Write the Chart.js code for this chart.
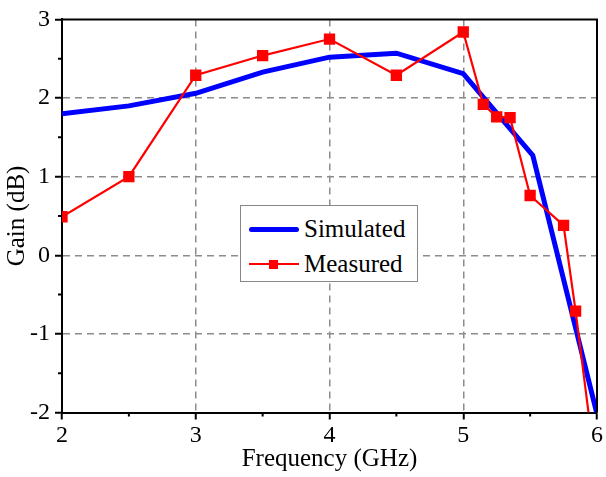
<!DOCTYPE html>
<html><head><meta charset="utf-8">
<script src="https://cdn.jsdelivr.net/npm/chart.js@4"></script>
<style>
html,body{margin:0;padding:0;background:#fff;}
#wrap{position:relative;width:606px;height:477px;}
#legend{position:absolute;left:240px;top:205px;width:178px;height:77px;border:1px solid #888;background:#fff;box-sizing:border-box;font-family:"Liberation Serif","Times New Roman",serif;font-size:25px;color:#000;}
.row{position:absolute;left:0;height:30px;}
.sw{position:absolute;left:8px;width:50px;top:15px;}
.sw .ln{position:absolute;left:0;width:50px;}
.sw .mk{position:absolute;width:9px;height:9px;left:20px;top:-4.5px;}
.txt{position:absolute;left:63px;top:0;line-height:30px;white-space:nowrap;}
</style>
</head><body>
<div id="wrap"><canvas id="c" width="606" height="477"></canvas><div id="legend"></div></div>
<script>
const simFreq = [2, 2.5, 3, 3.5, 4, 4.5, 5, 5.52, 6];
const simGain = [1.80, 1.90, 2.06, 2.33, 2.52, 2.57, 2.31, 1.27, -2.02];
const measFreq = [2, 2.5, 3, 3.5, 4, 4.5, 5, 5.15, 5.25, 5.35, 5.5, 5.75, 5.84, 5.95];
const measGain = [0.49, 1.00, 2.29, 2.54, 2.75, 2.29, 2.84, 1.92, 1.76, 1.75, 0.76, 0.38, -0.71, -2.18];
const seriesNames = ['Simulated', 'Measured'];
const xTicks = [2, 3, 4, 5, 6];
const yTicks = [-2, -1, 0, 1, 2, 3];
const xMinor = [2.5, 3.5, 4.5, 5.5];
const yMinor = [-1.5, -0.5, 0.5, 1.5, 2.5];
const xTitle = 'Frequency (GHz)';
const yTitle = 'Gain (dB)';

const FONT = '"Liberation Serif", "Times New Roman", serif';
const toPts = (xs, ys) => xs.map((x, i) => ({x: x, y: ys[i]}));

const boxPlugin = {
  id: 'box',
  afterDraw(chart) {
    const {ctx, chartArea: a, scales} = chart;
    ctx.save();
    ctx.strokeStyle = '#000';
    ctx.lineWidth = 2;
    ctx.beginPath();
    ctx.moveTo(a.left, a.top); ctx.lineTo(a.right, a.top); ctx.lineTo(a.right, a.bottom);
    ctx.stroke();
    // minor ticks
    ctx.lineWidth = 2;
    ctx.beginPath();
    xMinor.forEach(v => { const p = scales.x.getPixelForValue(v); ctx.moveTo(p, a.bottom); ctx.lineTo(p, a.bottom + 4); });
    yMinor.forEach(v => { const p = scales.y.getPixelForValue(v); ctx.moveTo(a.left, p); ctx.lineTo(a.left - 4, p); });
    ctx.stroke();
    ctx.restore();
  }
};

const chart = new Chart(document.getElementById('c'), {
  type: 'line',
  data: {
    datasets: [
      { label: seriesNames[0], data: toPts(simFreq, simGain), borderColor: '#0000ff', backgroundColor: '#0000ff',
        borderWidth: 5, pointRadius: 0, tension: 0, order: 1 },
      { label: seriesNames[1], data: toPts(measFreq, measGain), borderColor: '#ff0000', backgroundColor: '#ff0000',
        borderWidth: 2.2, pointStyle: 'rect', pointRadius: 8, pointBorderWidth: 0, pointBackgroundColor: '#ff0000', tension: 0, order: 0 }
    ]
  },
  options: {
    responsive: false,
    animation: false,
    devicePixelRatio: 1,
    layout: { padding: { top: 17, right: 9, left: 0, bottom: 0 } },
    plugins: { legend: { display: false }, tooltip: { enabled: false } },
    scales: {
      x: {
        type: 'linear', min: 2, max: 6,
        afterFit(s) { s.height = 64.5; },
        afterBuildTicks(s) { s.ticks = xTicks.map(v => ({value: v})); },
        ticks: { font: { family: FONT, size: 24 }, color: '#000', padding: 2, maxRotation: 0 },
        grid: {
          color: c => (c.tick && c.tick.value > 2 && c.tick.value < 6) ? '#8c8c8c' : 'rgba(0,0,0,0)',
          lineWidth: 1.5, tickColor: '#000', tickLength: 7, tickWidth: 2
        },
        border: { display: true, color: '#000', width: 2, dash: [7, 5] },
        title: { display: true, text: xTitle, font: { family: FONT, size: 25 }, color: '#000', padding: { top: 0, bottom: 3 } }
      },
      y: {
        type: 'linear', min: -2, max: 3,
        afterFit(s) { s.width = 62; },
        afterBuildTicks(s) { s.ticks = yTicks.map(v => ({value: v})); },
        ticks: { font: { family: FONT, size: 24 }, color: '#000', padding: 5 },
        grid: {
          color: c => (c.tick && c.tick.value > -2 && c.tick.value < 3) ? '#8c8c8c' : 'rgba(0,0,0,0)',
          lineWidth: 1.5, tickColor: '#000', tickLength: 7, tickWidth: 2
        },
        border: { display: true, color: '#000', width: 2, dash: [7, 5] },
        title: { display: true, text: yTitle, font: { family: FONT, size: 25 }, color: '#000', padding: { top: 2, bottom: 0 } }
      }
    }
  },
  plugins: [boxPlugin]
});

// HTML legend built from datasets
const leg = document.getElementById('legend');
chart.data.datasets.forEach((ds, i) => {
  const row = document.createElement('div');
  row.className = 'row';
  row.style.top = (8 + i * 35) + 'px';
  const sw = document.createElement('div'); sw.className = 'sw';
  const ln = document.createElement('div'); ln.className = 'ln';
  ln.style.height = ds.borderWidth + 'px';
  ln.style.top = (-ds.borderWidth / 2) + 'px';
  ln.style.background = ds.borderColor;
  if (ds.borderWidth >= 4) ln.style.borderRadius = '3px';
  sw.appendChild(ln);
  if (ds.pointRadius > 0) {
    const mk = document.createElement('div'); mk.className = 'mk';
    mk.style.background = ds.pointBackgroundColor;
    sw.appendChild(mk);
  }
  const t = document.createElement('div'); t.className = 'txt'; t.textContent = ds.label;
  row.appendChild(sw); row.appendChild(t);
  leg.appendChild(row);
});
</script>
</body></html>
